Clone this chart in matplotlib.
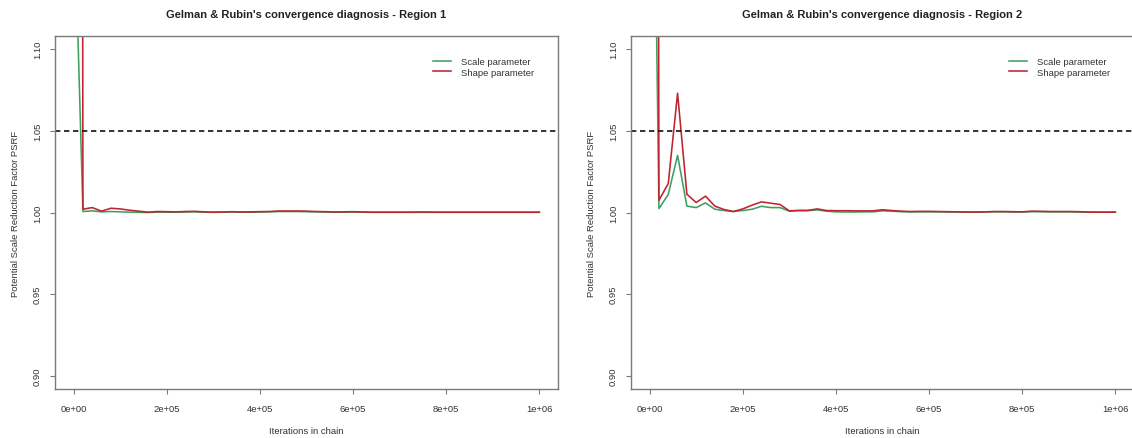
import matplotlib
matplotlib.use("Agg")
import matplotlib.pyplot as plt

plt.rcParams['font.family'] = ['Liberation Sans', 'DejaVu Sans']

iterations = [1000,
    20000, 40000, 60000, 80000, 100000, 120000, 140000, 160000, 180000, 200000,
    220000, 240000, 260000, 280000, 300000, 320000, 340000, 360000, 380000, 400000,
    420000, 440000, 460000, 480000, 500000, 520000, 540000, 560000, 580000, 600000,
    620000, 640000, 660000, 680000, 700000, 720000, 740000, 760000, 780000, 800000,
    820000, 840000, 860000, 880000, 900000, 920000, 940000, 960000, 980000, 1000000]

# Region 1
scale_r1 = [1.19,
    1.0006, 1.0010, 1.0004, 1.0006, 1.0004, 1.0002, 1.0001, 1.0000, 1.0002, 1.0002,
    1.0002, 1.0003, 1.0004, 1.0002, 1.0001, 1.0002, 1.0003, 1.0002, 1.0002, 1.0003,
    1.0004, 1.0006, 1.0006, 1.0006, 1.0005, 1.0004, 1.0003, 1.0002, 1.0002, 1.0003,
    1.0002, 1.0001, 1.0001, 1.0001, 1.0001, 1.0001, 1.0001, 1.0001, 1.0001, 1.0001,
    1.0001, 1.0001, 1.0001, 1.0001, 1.0001, 1.0001, 1.0001, 1.0001, 1.0001, 1.0001]
shape_r1 = [5.0,
    1.0020, 1.0030, 1.0008, 1.0026, 1.0022, 1.0014, 1.0008, 1.0002, 1.0006, 1.0005,
    1.0004, 1.0006, 1.0007, 1.0004, 1.0002, 1.0003, 1.0005, 1.0003, 1.0004, 1.0005,
    1.0006, 1.0009, 1.0009, 1.0009, 1.0008, 1.0006, 1.0005, 1.0003, 1.0004, 1.0005,
    1.0003, 1.0002, 1.0002, 1.0002, 1.0002, 1.0002, 1.0003, 1.0003, 1.0002, 1.0002,
    1.0002, 1.0002, 1.0002, 1.0002, 1.0002, 1.0002, 1.0002, 1.0002, 1.0002, 1.0002]

# Region 2
scale_r2 = [1.41,
    1.0024, 1.0110, 1.0350, 1.0039, 1.0030, 1.0059, 1.0020, 1.0012, 1.0006, 1.0012,
    1.0020, 1.0038, 1.0030, 1.0030, 1.0008, 1.0011, 1.0011, 1.0016, 1.0008, 1.0004,
    1.0003, 1.0003, 1.0004, 1.0004, 1.0010, 1.0008, 1.0005, 1.0004, 1.0004, 1.0004,
    1.0004, 1.0003, 1.0003, 1.0002, 1.0002, 1.0003, 1.0004, 1.0004, 1.0003, 1.0003,
    1.0005, 1.0005, 1.0004, 1.0004, 1.0004, 1.0003, 1.0002, 1.0002, 1.0002, 1.0002]
shape_r2 = [4.1,
    1.0075, 1.0177, 1.0730, 1.0112, 1.0061, 1.0100, 1.0039, 1.0018, 1.0006, 1.0022,
    1.0045, 1.0065, 1.0057, 1.0049, 1.0010, 1.0013, 1.0013, 1.0022, 1.0012, 1.0011,
    1.0011, 1.0010, 1.0010, 1.0010, 1.0017, 1.0012, 1.0008, 1.0006, 1.0007, 1.0007,
    1.0006, 1.0005, 1.0004, 1.0003, 1.0003, 1.0004, 1.0006, 1.0006, 1.0005, 1.0004,
    1.0008, 1.0007, 1.0006, 1.0006, 1.0006, 1.0005, 1.0003, 1.0002, 1.0002, 1.0002]

titles = ["Gelman & Rubin's convergence diagnosis - Region 1",
          "Gelman & Rubin's convergence diagnosis - Region 2"]
series_labels = ["Scale parameter", "Shape parameter"]
x_ticks = [0, 200000, 400000, 600000, 800000, 1000000]
x_tick_labels = ["0e+00", "2e+05", "4e+05", "6e+05", "8e+05", "1e+06"]
y_ticks = [0.90, 0.95, 1.00, 1.05, 1.10]
y_tick_labels = ["0.90", "0.95", "1.00", "1.05", "1.10"]
threshold = 1.05

W, H = 1132, 439
fig = plt.figure(figsize=(W / 100, H / 100), dpi=100)

green = "#3f9f63"
red = "#c0222e"
fs = 6.8
frame_col = "#7a7a7a"

panels = [
    (55, scale_r1, shape_r1, titles[0]),
    (631, scale_r2, shape_r2, titles[1]),
]
ax_w = 503
ax_top, ax_bot = 37, 390

for left_px, sc, sh, title in panels:
    ax = fig.add_axes([left_px / W, (H - ax_bot) / H, ax_w / W, (ax_bot - ax_top) / H])
    ax.plot(iterations, sc, color=green, lw=1.15, label=series_labels[0])
    ax.plot(iterations, sh, color=red, lw=1.15, label=series_labels[1])
    ax.axhline(threshold, color="#111111", lw=1.2, dashes=(3.2, 2.2))
    ax.set_xlim(-40000, 1040000)
    ax.set_ylim(0.892, 1.108)
    ax.set_xticks(x_ticks)
    ax.set_xticklabels(x_tick_labels)
    ax.set_yticks(y_ticks)
    ax.set_yticklabels(y_tick_labels, rotation=90, va="center")
    ax.tick_params(axis="both", direction="out", length=3.5, width=0.8,
                   color=frame_col, labelsize=fs, labelcolor="#333333", pad=6)
    ax.tick_params(axis="x", pad=7)
    for s in ax.spines.values():
        s.set_color(frame_col)
        s.set_linewidth(1.0)
    ax.set_xlabel("Iterations in chain", fontsize=fs, color="#333333", labelpad=10)
    ax.set_ylabel("Potential Scale Reduction Factor PSRF", fontsize=fs,
                  color="#333333", labelpad=9)
    ax.set_title(title, fontsize=8.0, fontweight="bold", color="#222222", pad=14)
    ax.legend(loc="upper left", bbox_to_anchor=(0.752, 0.94), frameon=False,
              fontsize=fs, handlelength=1.9, handletextpad=1.0, labelspacing=0.15,
              borderpad=0, borderaxespad=0, labelcolor="#333333")

fig.savefig("out.png", dpi=100)
